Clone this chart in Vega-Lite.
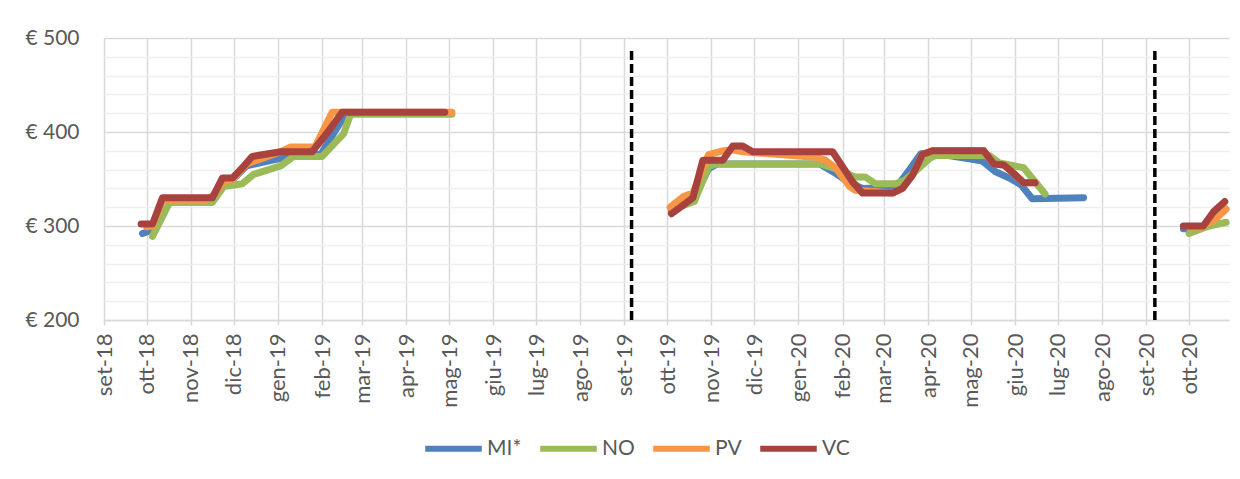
{
  "$schema": "https://vega.github.io/schema/vega-lite/v6.json",
  "width": 1125,
  "height": 282,
  "autosize": {"type": "none"},
  "padding": {"left": 104, "top": 38, "right": 11, "bottom": 159},
  "background": "white",
  "config": {
    "view": {"stroke": null},
    "font": "Lato",
    "axis": {"labelFont": "Lato", "labelColor": "#595959", "labelOverlap": false, "labelFlush": false, "labelBound": false}
  },
  "resolve": {"axis": {"y": "independent"}},
  "datasets": {
    "prices": [
      {"s": "MI*", "p": 1, "d": "2018-09-28", "v": 292},
      {"s": "MI*", "p": 1, "d": "2018-10-05", "v": 296},
      {"s": "MI*", "p": 1, "d": "2018-10-12", "v": 328},
      {"s": "MI*", "p": 1, "d": "2018-11-16", "v": 328},
      {"s": "MI*", "p": 1, "d": "2018-11-23", "v": 347},
      {"s": "MI*", "p": 1, "d": "2018-11-30", "v": 349},
      {"s": "MI*", "p": 1, "d": "2018-12-10", "v": 364},
      {"s": "MI*", "p": 1, "d": "2019-01-03", "v": 372},
      {"s": "MI*", "p": 1, "d": "2019-01-12", "v": 376},
      {"s": "MI*", "p": 1, "d": "2019-01-31", "v": 376},
      {"s": "MI*", "p": 1, "d": "2019-02-10", "v": 401},
      {"s": "MI*", "p": 1, "d": "2019-02-18", "v": 420},
      {"s": "MI*", "p": 1, "d": "2019-04-30", "v": 420},
      {"s": "MI*", "p": 2, "d": "2019-10-04", "v": 316},
      {"s": "MI*", "p": 2, "d": "2019-10-19", "v": 327},
      {"s": "MI*", "p": 2, "d": "2019-10-30", "v": 361},
      {"s": "MI*", "p": 2, "d": "2019-11-05", "v": 366},
      {"s": "MI*", "p": 2, "d": "2020-01-16", "v": 366},
      {"s": "MI*", "p": 2, "d": "2020-01-27", "v": 356},
      {"s": "MI*", "p": 2, "d": "2020-02-06", "v": 346},
      {"s": "MI*", "p": 2, "d": "2020-02-15", "v": 340},
      {"s": "MI*", "p": 2, "d": "2020-03-07", "v": 341},
      {"s": "MI*", "p": 2, "d": "2020-03-12", "v": 346},
      {"s": "MI*", "p": 2, "d": "2020-03-19", "v": 360},
      {"s": "MI*", "p": 2, "d": "2020-03-27", "v": 377},
      {"s": "MI*", "p": 2, "d": "2020-04-03", "v": 378},
      {"s": "MI*", "p": 2, "d": "2020-05-02", "v": 371},
      {"s": "MI*", "p": 2, "d": "2020-05-09", "v": 369},
      {"s": "MI*", "p": 2, "d": "2020-05-18", "v": 358},
      {"s": "MI*", "p": 2, "d": "2020-05-28", "v": 351},
      {"s": "MI*", "p": 2, "d": "2020-06-05", "v": 344},
      {"s": "MI*", "p": 2, "d": "2020-06-13", "v": 329},
      {"s": "MI*", "p": 2, "d": "2020-07-19", "v": 330},
      {"s": "MI*", "p": 3, "d": "2020-09-27", "v": 297},
      {"s": "MI*", "p": 3, "d": "2020-10-01", "v": 297},
      {"s": "MI*", "p": 3, "d": "2020-10-11", "v": 299},
      {"s": "MI*", "p": 3, "d": "2020-10-18", "v": 308},
      {"s": "MI*", "p": 3, "d": "2020-10-26", "v": 318},
      {"s": "NO", "p": 1, "d": "2018-10-05", "v": 289},
      {"s": "NO", "p": 1, "d": "2018-10-17", "v": 325},
      {"s": "NO", "p": 1, "d": "2018-11-16", "v": 325},
      {"s": "NO", "p": 1, "d": "2018-11-24", "v": 342},
      {"s": "NO", "p": 1, "d": "2018-12-07", "v": 345},
      {"s": "NO", "p": 1, "d": "2018-12-15", "v": 355},
      {"s": "NO", "p": 1, "d": "2019-01-03", "v": 364},
      {"s": "NO", "p": 1, "d": "2019-01-12", "v": 374},
      {"s": "NO", "p": 1, "d": "2019-02-01", "v": 374},
      {"s": "NO", "p": 1, "d": "2019-02-16", "v": 398},
      {"s": "NO", "p": 1, "d": "2019-02-21", "v": 419},
      {"s": "NO", "p": 1, "d": "2019-05-03", "v": 419},
      {"s": "NO", "p": 2, "d": "2019-10-05", "v": 318},
      {"s": "NO", "p": 2, "d": "2019-10-20", "v": 326},
      {"s": "NO", "p": 2, "d": "2019-10-30", "v": 363},
      {"s": "NO", "p": 2, "d": "2019-11-04", "v": 366},
      {"s": "NO", "p": 2, "d": "2020-01-16", "v": 366},
      {"s": "NO", "p": 2, "d": "2020-01-23", "v": 363},
      {"s": "NO", "p": 2, "d": "2020-02-01", "v": 358},
      {"s": "NO", "p": 2, "d": "2020-02-10", "v": 352},
      {"s": "NO", "p": 2, "d": "2020-02-17", "v": 352},
      {"s": "NO", "p": 2, "d": "2020-02-24", "v": 345},
      {"s": "NO", "p": 2, "d": "2020-03-09", "v": 345},
      {"s": "NO", "p": 2, "d": "2020-03-16", "v": 349},
      {"s": "NO", "p": 2, "d": "2020-03-23", "v": 358},
      {"s": "NO", "p": 2, "d": "2020-04-02", "v": 372},
      {"s": "NO", "p": 2, "d": "2020-04-06", "v": 375},
      {"s": "NO", "p": 2, "d": "2020-05-14", "v": 375},
      {"s": "NO", "p": 2, "d": "2020-05-21", "v": 367},
      {"s": "NO", "p": 2, "d": "2020-06-07", "v": 362},
      {"s": "NO", "p": 2, "d": "2020-06-22", "v": 334},
      {"s": "NO", "p": 3, "d": "2020-10-01", "v": 292},
      {"s": "NO", "p": 3, "d": "2020-10-15", "v": 300},
      {"s": "NO", "p": 3, "d": "2020-10-27", "v": 304},
      {"s": "PV", "p": 1, "d": "2018-10-01", "v": 299},
      {"s": "PV", "p": 1, "d": "2018-10-05", "v": 300},
      {"s": "PV", "p": 1, "d": "2018-10-12", "v": 328},
      {"s": "PV", "p": 1, "d": "2018-11-12", "v": 328},
      {"s": "PV", "p": 1, "d": "2018-11-16", "v": 332},
      {"s": "PV", "p": 1, "d": "2018-11-24", "v": 347},
      {"s": "PV", "p": 1, "d": "2018-11-30", "v": 349},
      {"s": "PV", "p": 1, "d": "2018-12-10", "v": 366},
      {"s": "PV", "p": 1, "d": "2019-01-03", "v": 379},
      {"s": "PV", "p": 1, "d": "2019-01-10", "v": 384},
      {"s": "PV", "p": 1, "d": "2019-01-27", "v": 384},
      {"s": "PV", "p": 1, "d": "2019-02-08", "v": 421},
      {"s": "PV", "p": 1, "d": "2019-05-03", "v": 421},
      {"s": "PV", "p": 2, "d": "2019-10-03", "v": 320},
      {"s": "PV", "p": 2, "d": "2019-10-12", "v": 331},
      {"s": "PV", "p": 2, "d": "2019-10-19", "v": 335},
      {"s": "PV", "p": 2, "d": "2019-10-30", "v": 376},
      {"s": "PV", "p": 2, "d": "2019-11-09", "v": 380},
      {"s": "PV", "p": 2, "d": "2019-11-16", "v": 381},
      {"s": "PV", "p": 2, "d": "2019-11-23", "v": 379},
      {"s": "PV", "p": 2, "d": "2020-01-13", "v": 373},
      {"s": "PV", "p": 2, "d": "2020-01-20", "v": 370},
      {"s": "PV", "p": 2, "d": "2020-01-27", "v": 362},
      {"s": "PV", "p": 2, "d": "2020-02-06", "v": 342},
      {"s": "PV", "p": 2, "d": "2020-02-10", "v": 338},
      {"s": "PV", "p": 2, "d": "2020-03-07", "v": 335},
      {"s": "PV", "p": 2, "d": "2020-03-14", "v": 340},
      {"s": "PV", "p": 2, "d": "2020-03-21", "v": 354},
      {"s": "PV", "p": 2, "d": "2020-03-28", "v": 376},
      {"s": "PV", "p": 2, "d": "2020-04-04", "v": 380},
      {"s": "PV", "p": 2, "d": "2020-05-10", "v": 380},
      {"s": "PV", "p": 2, "d": "2020-05-17", "v": 366},
      {"s": "PV", "p": 2, "d": "2020-05-24", "v": 365},
      {"s": "PV", "p": 2, "d": "2020-05-31", "v": 356},
      {"s": "PV", "p": 2, "d": "2020-06-07", "v": 346},
      {"s": "PV", "p": 2, "d": "2020-06-15", "v": 346},
      {"s": "PV", "p": 3, "d": "2020-10-01", "v": 299},
      {"s": "PV", "p": 3, "d": "2020-10-10", "v": 299},
      {"s": "PV", "p": 3, "d": "2020-10-20", "v": 308},
      {"s": "PV", "p": 3, "d": "2020-10-27", "v": 318},
      {"s": "VC", "p": 1, "d": "2018-09-27", "v": 302},
      {"s": "VC", "p": 1, "d": "2018-10-05", "v": 302},
      {"s": "VC", "p": 1, "d": "2018-10-12", "v": 330},
      {"s": "VC", "p": 1, "d": "2018-11-16", "v": 330},
      {"s": "VC", "p": 1, "d": "2018-11-23", "v": 351},
      {"s": "VC", "p": 1, "d": "2018-11-30", "v": 351},
      {"s": "VC", "p": 1, "d": "2018-12-07", "v": 362},
      {"s": "VC", "p": 1, "d": "2018-12-14", "v": 374},
      {"s": "VC", "p": 1, "d": "2019-01-03", "v": 379},
      {"s": "VC", "p": 1, "d": "2019-01-25", "v": 379},
      {"s": "VC", "p": 1, "d": "2019-02-05", "v": 400},
      {"s": "VC", "p": 1, "d": "2019-02-15", "v": 421},
      {"s": "VC", "p": 1, "d": "2019-04-28", "v": 421},
      {"s": "VC", "p": 2, "d": "2019-10-04", "v": 313},
      {"s": "VC", "p": 2, "d": "2019-10-12", "v": 322},
      {"s": "VC", "p": 2, "d": "2019-10-19", "v": 330},
      {"s": "VC", "p": 2, "d": "2019-10-26", "v": 370},
      {"s": "VC", "p": 2, "d": "2019-11-09", "v": 370},
      {"s": "VC", "p": 2, "d": "2019-11-16", "v": 385},
      {"s": "VC", "p": 2, "d": "2019-11-23", "v": 385},
      {"s": "VC", "p": 2, "d": "2019-11-30", "v": 379},
      {"s": "VC", "p": 2, "d": "2020-01-25", "v": 379},
      {"s": "VC", "p": 2, "d": "2020-02-01", "v": 363},
      {"s": "VC", "p": 2, "d": "2020-02-08", "v": 347},
      {"s": "VC", "p": 2, "d": "2020-02-15", "v": 335},
      {"s": "VC", "p": 2, "d": "2020-03-07", "v": 335},
      {"s": "VC", "p": 2, "d": "2020-03-14", "v": 340},
      {"s": "VC", "p": 2, "d": "2020-03-21", "v": 354},
      {"s": "VC", "p": 2, "d": "2020-03-28", "v": 376},
      {"s": "VC", "p": 2, "d": "2020-04-04", "v": 380},
      {"s": "VC", "p": 2, "d": "2020-05-10", "v": 380},
      {"s": "VC", "p": 2, "d": "2020-05-17", "v": 366},
      {"s": "VC", "p": 2, "d": "2020-05-24", "v": 365},
      {"s": "VC", "p": 2, "d": "2020-05-31", "v": 356},
      {"s": "VC", "p": 2, "d": "2020-06-07", "v": 346},
      {"s": "VC", "p": 2, "d": "2020-06-15", "v": 346},
      {"s": "VC", "p": 3, "d": "2020-09-27", "v": 300},
      {"s": "VC", "p": 3, "d": "2020-10-11", "v": 300},
      {"s": "VC", "p": 3, "d": "2020-10-18", "v": 315},
      {"s": "VC", "p": 3, "d": "2020-10-26", "v": 326}
    ],
    "breaks": [
      {"d": "2019-09-06", "lo": 200, "hi": 490},
      {"d": "2020-09-07", "lo": 200, "hi": 489}
    ]
  },
  "layer": [
    {
      "data": {"name": "prices"},
      "mark": {"type": "line", "strokeWidth": 7, "strokeCap": "round", "strokeJoin": "round"},
      "encoding": {
        "x": {
          "field": "d",
          "type": "temporal",
          "scale": {
            "type": "utc",
            "domain": [
              {"year": 2018, "month": 9, "date": 1, "utc": true},
              {"year": 2020, "month": 10, "date": 29, "utc": true}
            ]
          },
          "axis": {
            "title": null,
            "values": [
              {"year": 2018, "month": 9, "date": 1, "utc": true},
              {"year": 2018, "month": 10, "date": 1, "utc": true},
              {"year": 2018, "month": 11, "date": 1, "utc": true},
              {"year": 2018, "month": 12, "date": 1, "utc": true},
              {"year": 2019, "month": 1, "date": 1, "utc": true},
              {"year": 2019, "month": 2, "date": 1, "utc": true},
              {"year": 2019, "month": 3, "date": 1, "utc": true},
              {"year": 2019, "month": 4, "date": 1, "utc": true},
              {"year": 2019, "month": 5, "date": 1, "utc": true},
              {"year": 2019, "month": 6, "date": 1, "utc": true},
              {"year": 2019, "month": 7, "date": 1, "utc": true},
              {"year": 2019, "month": 8, "date": 1, "utc": true},
              {"year": 2019, "month": 9, "date": 1, "utc": true},
              {"year": 2019, "month": 10, "date": 1, "utc": true},
              {"year": 2019, "month": 11, "date": 1, "utc": true},
              {"year": 2019, "month": 12, "date": 1, "utc": true},
              {"year": 2020, "month": 1, "date": 1, "utc": true},
              {"year": 2020, "month": 2, "date": 1, "utc": true},
              {"year": 2020, "month": 3, "date": 1, "utc": true},
              {"year": 2020, "month": 4, "date": 1, "utc": true},
              {"year": 2020, "month": 5, "date": 1, "utc": true},
              {"year": 2020, "month": 6, "date": 1, "utc": true},
              {"year": 2020, "month": 7, "date": 1, "utc": true},
              {"year": 2020, "month": 8, "date": 1, "utc": true},
              {"year": 2020, "month": 9, "date": 1, "utc": true},
              {"year": 2020, "month": 10, "date": 1, "utc": true}
            ],
            "labelExpr": "['gen','feb','mar','apr','mag','giu','lug','ago','set','ott','nov','dic'][utcmonth(datum.value)] + '-' + utcFormat(datum.value, '%y')",
            "labelAngle": -90,
            "labelFontSize": 22,
            "labelPadding": 8,
            "labelOverlap": false,
            "grid": true,
            "gridColor": "#d9d9d9",
            "gridWidth": 1.5,
            "domainColor": "#d9d9d9",
            "domainWidth": 1.5,
            "tickColor": "#d9d9d9",
            "tickWidth": 1.5,
            "tickSize": 5
          }
        },
        "y": {
          "field": "v",
          "type": "quantitative",
          "scale": {"domain": [200, 500], "nice": false, "zero": false},
          "axis": {
            "title": null,
            "orient": "left",
            "values": [200, 300, 400, 500],
            "labelExpr": "'€ ' + datum.value",
            "labelFontSize": 21,
            "labelPadding": 25,
            "domain": false,
            "ticks": false,
            "grid": true,
            "gridColor": "#d9d9d9",
            "gridWidth": 1.5
          }
        },
        "color": {
          "field": "s",
          "type": "nominal",
          "scale": {"domain": ["MI*", "NO", "PV", "VC"], "range": ["#4F81BD", "#9BBB59", "#F79646", "#A8423F"]},
          "legend": {
            "title": null,
            "orient": "none",
            "legendX": 318,
            "legendY": 379,
            "direction": "horizontal",
            "symbolType": "stroke",
            "symbolSize": 3200,
            "symbolStrokeWidth": 6,
            "labelFontSize": 21,
            "labelColor": "#595959",
            "labelFont": "Lato",
            "labelOffset": 2,
            "columnPadding": 6
          }
        },
        "detail": {"field": "p", "type": "nominal"}
      }
    },
    {
      "data": {"name": "breaks"},
      "mark": {"type": "rule", "color": "black", "strokeWidth": 3.5, "strokeDash": [9, 4]},
      "encoding": {
        "x": {"field": "d", "type": "temporal"},
        "y": {
          "field": "lo",
          "type": "quantitative",
          "axis": {
            "title": null,
            "orient": "left",
            "values": [220, 240, 260, 280, 320, 340, 360, 380, 420, 440, 460, 480],
            "labels": false,
            "domain": false,
            "ticks": false,
            "grid": true,
            "gridColor": "#eeeeee",
            "gridWidth": 1.5
          }
        },
        "y2": {"field": "hi"}
      }
    }
  ]
}
